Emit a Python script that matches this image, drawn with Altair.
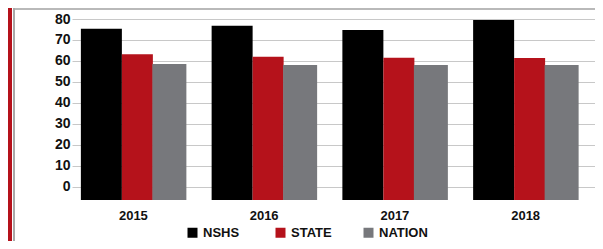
import altair as alt
import pandas as pd

# ---- data ----
years = ["2015", "2016", "2017", "2018"]
series = ["NSHS", "STATE", "NATION"]
nshs = [75.3, 76.8, 74.8, 79.5]
state = [63.2, 62.0, 61.5, 61.4]
nation = [58.5, 58.1, 58.0, 58.0]
y_ticks = [0, 10, 20, 30, 40, 50, 60, 70, 80]
y_min, y_max = -6.35, 84.3
colors = ["#000000", "#b5121b", "#77787c"]

rows = []
for s, vals in zip(series, [nshs, state, nation]):
    for yr, v in zip(years, vals):
        rows.append({"year": yr, "series": s, "value": v})
df = pd.DataFrame(rows)

W, H = 523, 190
FONT_N = "Liberation Sans Narrow, Arial Narrow, Liberation Sans, Arial, sans-serif"
FONT = "Liberation Sans, Arial, sans-serif"

x_enc = alt.X(
    "year:N", sort=years,
    scale=alt.Scale(paddingInner=0, paddingOuter=0),
    axis=alt.Axis(title=None, labelOffset=-4, labelPadding=9, labelAngle=0,
                  domain=False, ticks=False, labelFont=FONT_N, labelFontSize=13,
                  labelFontWeight="bold", labelColor="#111111"),
)
y_enc = alt.Y(
    "value:Q",
    scale=alt.Scale(domain=[y_min, y_max], nice=False, zero=False),
    axis=alt.Axis(title=None, values=y_ticks, domain=False, ticks=False,
                  labelPadding=2, labelFont=FONT, labelFontSize=14,
                  labelFontWeight="bold", labelColor="#111111",
                  gridColor="#c8c8c8", gridWidth=1),
)
color_enc = alt.Color(
    "series:N", sort=series,
    scale=alt.Scale(domain=series, range=colors),
    legend=alt.Legend(title=None, orient="none", legendX=114, legendY=216,
                      direction="horizontal", columns=3, symbolType="square",
                      symbolSize=100, symbolStrokeWidth=0, symbolOpacity=1,
                      labelFont=FONT_N, labelFontSize=13, labelFontWeight="bold",
                      labelColor="#111111", labelOffset=4, columnPadding=22,
                      gridAlign="all", padding=0),
)

geom = {"NSHS": (41, -36), "STATE": (31, 0), "NATION": (34, 32)}
layers = []
for s in series:
    w, off = geom[s]
    layers.append(
        alt.Chart(df)
        .transform_filter(alt.datum.series == s)
        .mark_bar(width=w, xOffset=off)
        .encode(x=x_enc, y=y_enc, y2=alt.datum(y_min), color=color_enc)
    )

one = pd.DataFrame({"k": [0]})
red_band = alt.Chart(one).mark_rect(color="#b5121b").encode(
    x=alt.value(-64), x2=alt.value(-60), y=alt.value(-2), y2=alt.value(233))
gray_left = alt.Chart(one).mark_rect(color="#a9a9a9").encode(
    x=alt.value(-59), x2=alt.value(-57), y=alt.value(-2), y2=alt.value(233))
gray_top = alt.Chart(one).mark_rect(color="#b9b9b9").encode(
    x=alt.value(-57), x2=alt.value(W), y=alt.value(-2), y2=alt.value(0))

chart = (
    alt.layer(red_band, gray_left, gray_top, *layers)
    .properties(width=W, height=H,
                padding={"left": 64, "top": 2, "right": 0, "bottom": 41},
                autosize=alt.AutoSizeParams(type="none"),
                background="#ffffff")
    .configure_view(stroke=None)
)

chart.save("out.html", embed_options={"renderer": "svg", "actions": False})
